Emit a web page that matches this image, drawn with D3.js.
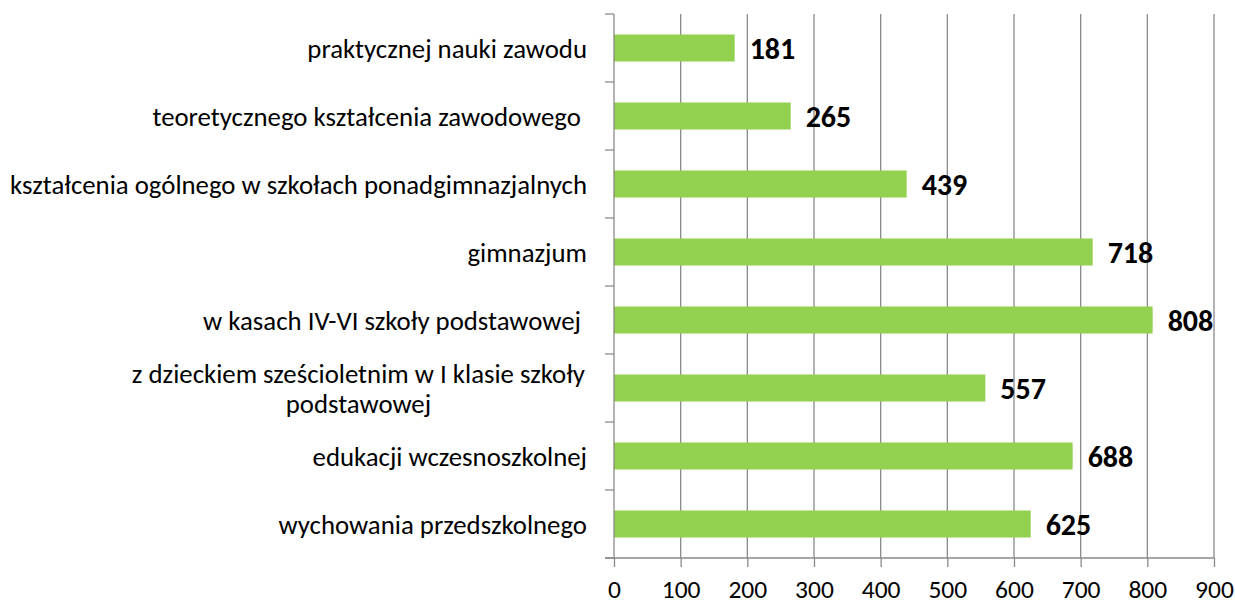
<!DOCTYPE html>
<html><head><meta charset="utf-8">
<script src="https://cdn.jsdelivr.net/npm/d3@7"></script>
<style>body{margin:0;background:#fff}svg{display:block}text{white-space:pre}</style>
</head><body>
<script>
const categories = [
  "praktycznej nauki zawodu",
  "teoretycznego kształcenia zawodowego ",
  "kształcenia ogólnego w szkołach ponadgimnazjalnych",
  "gimnazjum",
  "w kasach IV-VI szkoły podstawowej ",
  "z dzieckiem sześcioletnim w I klasie szkoły|podstawowej",
  "edukacji wczesnoszkolnej",
  "wychowania przedszkolnego"
];
const values = [181, 265, 439, 718, 808, 557, 688, 625];
const xTicks = [0,100,200,300,400,500,600,700,800,900];

(function(){
const W = 1235, H = 605;
const mLeft = 614, mRight = 1214, mTop = 14, mBottom = 558;
const font = "Carlito, Calibri, 'Open Sans', sans-serif";
const gray = "#8a8a8a";

const svg = d3.select("body").append("svg").attr("width", W).attr("height", H);
const x = d3.scaleLinear().domain([0, 900]).range([mLeft, mRight]);
const yb = d3.scaleBand().domain(categories).range([mTop, mBottom]);

// gridlines
svg.append("g").selectAll("line").data(xTicks.slice(1)).join("line")
  .attr("x1", d => x(d)).attr("x2", d => x(d)).attr("y1", mTop).attr("y2", mBottom)
  .attr("stroke", gray).attr("stroke-width", 1.3);

// bars
svg.append("g").selectAll("rect").data(values).join("rect")
  .attr("x", x(0)).attr("y", (d,i) => yb(categories[i]) + yb.bandwidth()/2 - 13.5)
  .attr("width", d => x(d) - x(0)).attr("height", 27)
  .attr("fill", "#92d050");

// x axis
const xa = svg.append("g").attr("transform", `translate(0,${mBottom})`)
  .call(d3.axisBottom(x).tickValues(xTicks).tickSize(9).tickPadding(0));
xa.select(".domain").remove();
xa.selectAll("line").attr("stroke", gray).attr("stroke-width", 1.3);
xa.selectAll("text").attr("font-family", font).attr("font-size", 25.5).attr("fill", "#000")
  .attr("dy", null).attr("y", 40);
svg.append("line").attr("x1", mLeft - 9).attr("x2", mRight).attr("y1", mBottom).attr("y2", mBottom)
  .attr("stroke", gray).attr("stroke-width", 1.3);

// y axis
svg.append("line").attr("x1", mLeft).attr("x2", mLeft).attr("y1", mTop).attr("y2", mBottom)
  .attr("stroke", gray).attr("stroke-width", 1.3);
const yt = categories.map(c => yb(c)).concat([mBottom]);
svg.append("g").selectAll("line").data(yt).join("line")
  .attr("x1", mLeft - 9).attr("x2", mLeft).attr("y1", d => d).attr("y2", d => d)
  .attr("stroke", gray).attr("stroke-width", 1.3);

// category labels
const lg = svg.append("g").attr("font-family", font).attr("font-size", 26.8).attr("fill", "#000");
categories.forEach(c => {
  const lines = c.split("|");
  const cy = yb(c) + yb.bandwidth()/2 + 9.5;
  if (lines.length === 1) {
    lg.append("text").attr("x", 587).attr("y", cy).attr("text-anchor", "end").text(lines[0]);
  } else {
    const tmp = lg.append("text").text(lines[0]);
    const w = tmp.node().getComputedTextLength();
    tmp.remove();
    const cx = 585 - w/2;
    lines.forEach((l, i) => {
      lg.append("text").attr("x", cx).attr("y", cy + (i - (lines.length-1)/2) * 30)
        .attr("text-anchor", "middle").text(l);
    });
  }
});

// value labels
svg.append("g").selectAll("text").data(values).join("text")
  .attr("x", d => x(d) + 15).attr("y", (d,i) => yb(categories[i]) + yb.bandwidth()/2 + 11)
  .attr("font-family", font).attr("font-size", 30).attr("font-weight", "bold").attr("fill", "#000")
  .text(d => d);
})();
</script>
</body></html>
